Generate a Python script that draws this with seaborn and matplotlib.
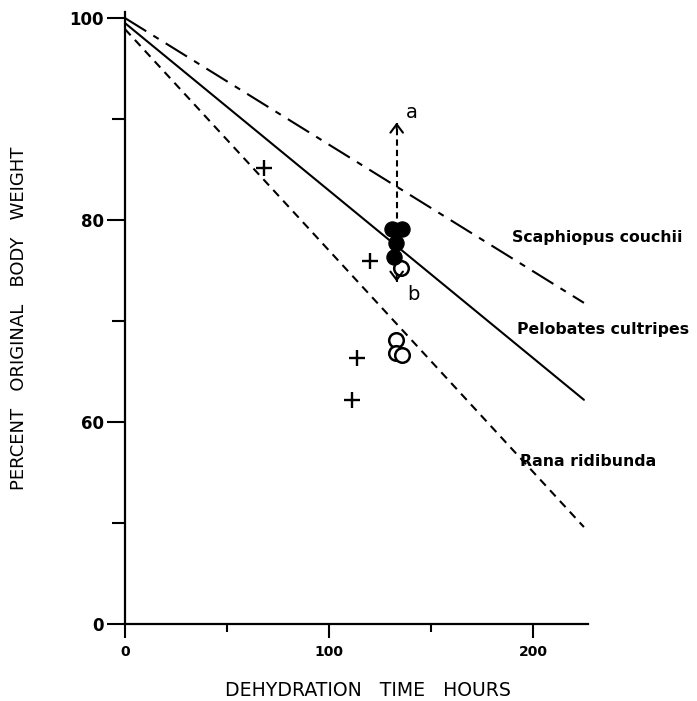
import matplotlib
matplotlib.use("Agg")
import matplotlib.pyplot as plt
import seaborn as sns
import pandas as pd
from matplotlib.ticker import FixedLocator

# ---- data ----
line_hours = [0, 225]
scaphiopus = [100.0, 71.8]
pelobates = [99.5, 62.2]
rana = [98.9, 49.6]
species = ["Scaphiopus couchii", "Pelobates cultripes", "Rana ridibunda"]

filled_hours = [130.7, 135.6, 132.7, 131.7]
filled_pct = [79.1, 79.1, 77.7, 76.3]
open_hours = [135.1, 132.7, 132.7, 135.6]
open_pct = [75.3, 68.1, 66.8, 66.6]
cross_hours = [68.3, 120.0, 113.7, 111.2]
cross_pct = [85.2, 75.9, 66.3, 62.2]

arrow_hour = 133.2
arrow_a = (79.1, 89.65)
arrow_b = (76.3, 73.9)

x_ticks = [0, 100, 200]
x_minor = [50, 150]
y_ticks = [40, 60, 80, 100]
y_tick_labels = ["0", "60", "80", "100"]
y_minor = [50, 70, 90]

label_pos = {"Scaphiopus couchii": (189.5, 78.3),
             "Pelobates cultripes": (192.0, 69.2),
             "Rana ridibunda": (193.5, 56.1)}

# ---- build frame ----
rows = []
for sp, vals in zip(species, [scaphiopus, pelobates, rana]):
    for h, v in zip(line_hours, vals):
        rows.append({"hours": h, "pct": v, "species": sp})
df = pd.DataFrame(rows)

sns.set_style("white")
plt.rcParams["font.family"] = ["DejaVu Sans"]
for k in ["text.color", "axes.labelcolor", "xtick.color", "ytick.color"]:
    plt.rcParams[k] = "black"

fig = plt.figure(figsize=(6.97, 7.01), dpi=100)
ax = fig.add_axes([125 / 697, 77 / 701, 463 / 697, 612 / 701])

sns.lineplot(data=df, x="hours", y="pct", hue="species", style="species",
             palette={s: "black" for s in species},
             dashes={"Scaphiopus couchii": (12, 4, 3, 4),
                     "Pelobates cultripes": "",
                     "Rana ridibunda": (4, 3)},
             linewidth=1.5, legend=False, ax=ax)

sns.scatterplot(x=cross_hours, y=cross_pct, marker="+", s=130, color="black",
                linewidth=1.7, ax=ax, zorder=5)
sns.scatterplot(x=open_hours, y=open_pct, marker="o", s=110, facecolor="white",
                edgecolor="black", linewidth=1.8, ax=ax, zorder=5)
sns.scatterplot(x=filled_hours, y=filled_pct, marker="o", s=120, color="black",
                edgecolor="black", ax=ax, zorder=6)

# dashed arrows a / b
for (y0, y1), lab in [(arrow_a, "a"), (arrow_b, "b")]:
    ax.plot([arrow_hour, arrow_hour], [y0, y1], color="black", lw=1.5,
            linestyle=(0, (3, 2)), zorder=4)
    d = 0.6 if y1 > y0 else -0.6
    ax.annotate("", xy=(arrow_hour, y1), xytext=(arrow_hour, y1 - d),
                arrowprops=dict(arrowstyle="->,head_length=0.6,head_width=0.45",
                                lw=1.5, color="black", shrinkA=0, shrinkB=0),
                zorder=7)
ax.text(arrow_hour + 4.5, arrow_a[1] + 1.0, "a", fontsize=14, ha="left", va="center")
ax.text(arrow_hour + 5.0, arrow_b[1] - 1.3, "b", fontsize=14, ha="left", va="center")

for sp, (hx, py) in label_pos.items():
    ax.text(hx, py, sp, fontsize=11.3, fontweight="bold", ha="left", va="center")

ax.set_xlim(0, 227)
ax.set_ylim(40, 100.6)
ax.set_xticks(x_ticks)
ax.set_xticklabels([str(t) for t in x_ticks], fontsize=10, fontweight="bold")
ax.xaxis.set_minor_locator(FixedLocator(x_minor))
ax.set_yticks(y_ticks)
ax.set_yticklabels(y_tick_labels, fontsize=12, fontweight="bold")
ax.yaxis.set_minor_locator(FixedLocator(y_minor))

ax.tick_params(axis="x", which="major", direction="out", length=10, width=1.5, pad=5)
ax.tick_params(axis="x", which="minor", direction="out", length=6, width=1.5)
ax.tick_params(axis="y", which="major", direction="out", length=13, width=1.5, pad=2)
ax.tick_params(axis="y", which="minor", direction="out", length=9.5, width=1.5)
ax.tick_params(bottom=True, left=True, which="both", colors="black")

for s in ["top", "right"]:
    ax.spines[s].set_visible(False)
for s in ["left", "bottom"]:
    ax.spines[s].set_linewidth(1.6)
    ax.spines[s].set_color("black")

ax.set_xlabel("DEHYDRATION   TIME   HOURS", fontsize=13.6)
ax.xaxis.set_label_coords((368 - 125) / 463, -(691 - 624) / 612)
ax.xaxis.label.set_va("center")
ax.set_ylabel("PERCENT   ORIGINAL   BODY   WEIGHT", fontsize=13)
ax.yaxis.set_label_coords(-(125 - 19) / 463, (624 - 318) / 612)
ax.yaxis.label.set_va("center")

fig.savefig("out.png", dpi=100, facecolor="white")
